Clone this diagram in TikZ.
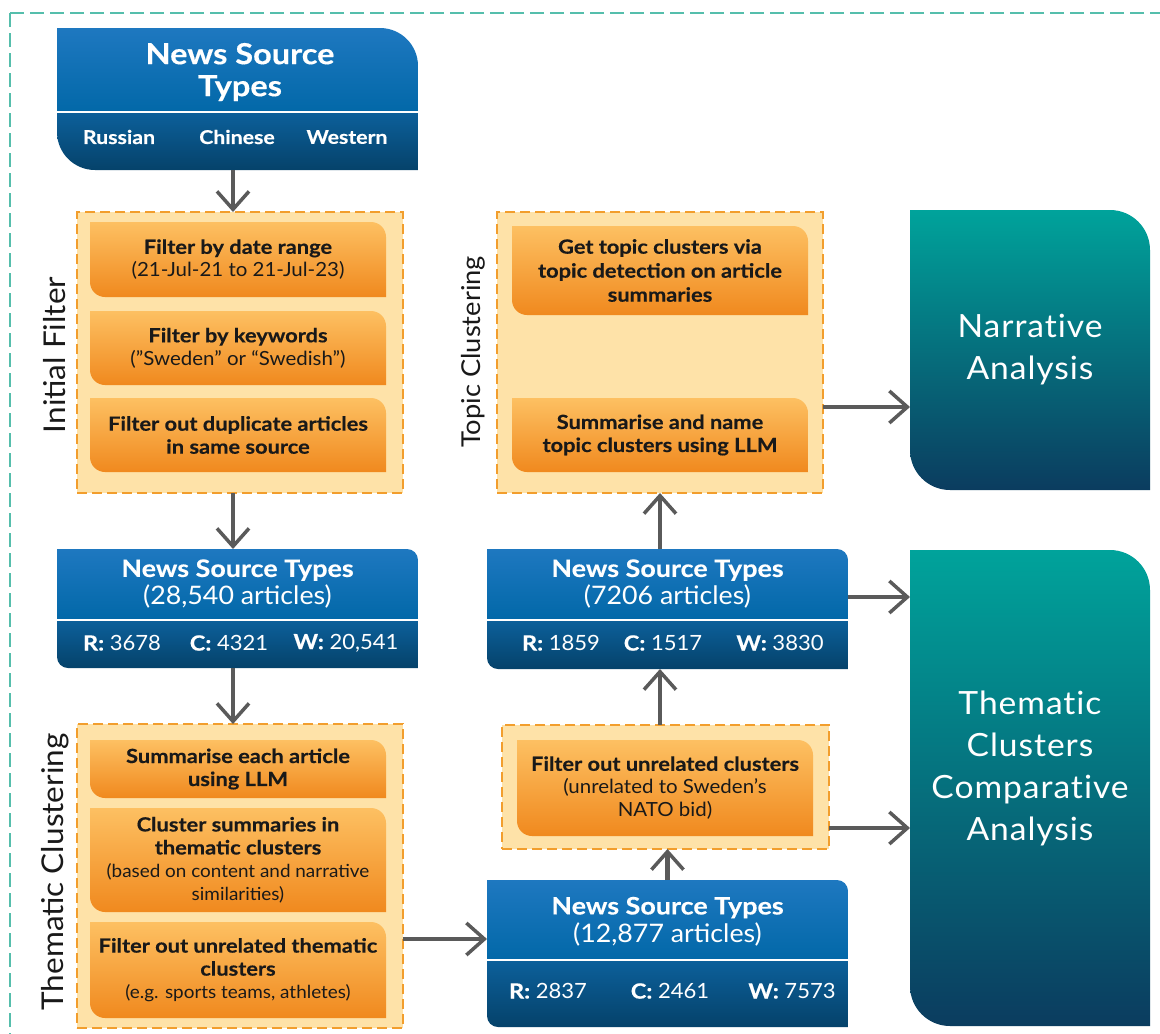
\documentclass[tikz,border=0pt]{standalone}
\usepackage{fontspec}
\setmainfont{Lato}[FakeStretch=1.05, BoldFeatures={FakeStretch=1.12, FakeBold=0.4}]
\usetikzlibrary{arrows.meta}
\definecolor{blueA}{RGB}{30,120,192}
\definecolor{blueB}{RGB}{2,104,168}
\definecolor{blueC}{RGB}{12,96,155}
\definecolor{blueD}{RGB}{5,66,106}
\definecolor{orgA}{RGB}{253,192,98}
\definecolor{orgB}{RGB}{240,137,30}
\definecolor{grpfill}{RGB}{254,226,168}
\definecolor{grpedge}{RGB}{242,158,45}
\definecolor{tealA}{RGB}{0,163,155}
\definecolor{tealB}{RGB}{11,60,95}
\definecolor{framecol}{RGB}{85,190,172}
\definecolor{arrowgray}{RGB}{90,90,90}
\definecolor{ink}{RGB}{25,25,25}
\pgfdeclarelayer{back}
\pgfdeclarelayer{cards}
\pgfsetlayers{back,cards,main}
\newcommand{\fsz}[2]{\fontsize{#1}{#2}\selectfont}
% card with rounded top right and bottom left corners
\newcommand{\cardfill}[3]{\shade[#3, rounded corners=#2] (#1.south west) rectangle (#1.north east) [sharp corners] (#1.west) rectangle (#1.north) (#1.south) rectangle (#1.east);}
% blue card: two shades split by a white rule
\newcommand{\srcfill}[3]{%
  \begin{scope}
    \clip[rounded corners=#2] (#1.south west) rectangle (#1.north east) [sharp corners] (#1.west) rectangle (#1.north) (#1.south) rectangle (#1.east);
    \shade[top color=blueA, bottom color=blueB] (#1.north west) rectangle (#1.east |- 0,#3);
    \shade[top color=blueC, bottom color=blueD] (#1.west |- 0,#3) rectangle (#1.south east);
    \draw[white, line width=1.5pt] (#1.west |- 0,#3) -- (#1.east |- 0,#3);
  \end{scope}}
\tikzset{
    common/.style={inner sep=0pt, outer sep=0pt},
    srcbox/.style={common, minimum width=361pt},
    grp/.style={common, draw=grpedge, fill=grpfill, line width=2.5pt, dash pattern=on 10pt off 5pt, minimum width=326pt},
    task/.style={common, minimum width=296pt, align=center, text=ink, font=\fsz{19.5}{23}},
    outbox/.style={common, minimum width=240pt, align=center, text=white, font=\fsz{32}{42}\addfontfeature{LetterSpace=3, Ligatures=NoCommon}},
    srchead/.style={text=white, align=center, font=\bfseries\fsz{24}{28}},
    tally/.style={text=white, font=\fsz{21}{25}},
    grplabel/.style={rotate=90, text=ink, font=\fsz{30}{36}},
    flow/.style={draw=arrowgray, line width=4.5pt, -{Straight Barb[length=18pt,width=32pt,line width=3.5pt]}}
}
\begin{document}
\begin{tikzpicture}[x=1pt, y=-1pt]
\useasboundingbox (0,0) rectangle (1160,1034);

\begin{pgfonlayer}{back}
  \draw[framecol, line width=2.5pt, dash pattern=on 14pt off 6pt] (10,13) rectangle (1200,1080);
  \node[grp, minimum height=281pt] (ifgrp) at (240,352.5) {};
  \node[grp, minimum height=304pt] (thgrp) at (240,876) {};
  \node[grp, minimum height=281pt] (tpgrp) at (660,352.5) {};
  \node[grp, minimum width=327pt, minimum height=124pt] (natgrp) at (665.5,787) {};
\end{pgfonlayer}

% sources
\node[srcbox, minimum height=142pt] (src) at (237.5,99) {};
\node[srchead, font=\bfseries\fsz{29}{32}] (srctitle) at (240,72) {News Source\\Types};
\node[tally, font=\bfseries\fsz{19}{22}] (ru) at (119,137) {Russian};
\node[tally, font=\bfseries\fsz{19}{22}] (cn) at (237,137) {Chinese};
\node[tally, font=\bfseries\fsz{19}{22}] (we) at (347,137) {Western};

% initial filter
\node[grplabel] (iflabel) at (55,355) {Initial Filter};
\node[task, minimum height=75pt] (date) at (238,259.5) {\textbf{Filter by date range}\\(21-Jul-21 to 21-Jul-23)};
\node[task, minimum height=74pt] (kw) at (238,348) {\textbf{Filter by keywords}\\(”Sweden” or “Swedish”)};
\node[task, minimum height=74pt] (dup) at (238,435) {\textbf{Filter out duplicate articles}\\\textbf{in same source}};

\node[srcbox, minimum height=119pt] (all) at (237.5,608.5) {};
\node[srchead] (alltitle) at (237.5,584) {News Source Types\\{\mdseries\fsz{25.5}{28}(28,540 articles)}};
\node[tally] (allR) at (122,643) {\textbf{R:} 3678};
\node[tally] (allC) at (229,643) {\textbf{C:} 4321};
\node[tally] (allW) at (346,643) {\textbf{W:} 20,541};

% thematic clustering
\node[grplabel] (thlabel) at (55,872) {Thematic Clustering};
\node[task, minimum height=58pt] (summ) at (238,769) {\textbf{Summarise each article}\\\textbf{using LLM}};
\node[task, minimum height=104pt] (clus) at (238,860) {\textbf{Cluster summaries in}\\\textbf{thematic clusters}\\{\fsz{18}{21}(based on content and narrative}\\{\fsz{18}{21}similarities)}};
\node[task, minimum height=96pt] (unrel) at (238,970) {\textbf{Filter out unrelated thematic}\\\textbf{clusters}\\{\fsz{18}{21}(e.g. sports teams, athletes)}};

\node[srcbox, minimum height=147pt] (them) at (667.5,953.5) {};
\node[srchead] (themtitle) at (667.5,921.5) {News Source Types\\{\mdseries\fsz{25.5}{28}(12,877 articles)}};
\node[tally] (themR) at (548,991) {\textbf{R:} 2837};
\node[tally] (themC) at (670,991) {\textbf{C:} 2461};
\node[tally] (themW) at (792,991) {\textbf{W:} 7573};

\node[task, minimum height=96pt] (nat) at (665,788) {\textbf{Filter out unrelated clusters}\\(unrelated to Sweden’s\\NATO bid)};

\node[srcbox, minimum height=120pt] (kept) at (667.5,609) {};
\node[srchead] (kepttitle) at (667.5,584) {News Source Types\\{\mdseries\fsz{25.5}{28}(7206 articles)}};
\node[tally] (keptR) at (561,643) {\textbf{R:} 1859};
\node[tally] (keptC) at (663,643) {\textbf{C:} 1517};
\node[tally] (keptW) at (780,643) {\textbf{W:} 3830};

% topic clustering
\node[grplabel, font=\fsz{26}{30}] (tplabel) at (473,352) {Topic Clustering};
\node[task, minimum height=89pt, font=\fsz{19.5}{24}] (topics) at (660,270.5) {\textbf{Get topic clusters via}\\\textbf{topic detection on article}\\\textbf{summaries}};
\node[task, minimum height=74pt] (names) at (660,435) {\textbf{Summarise and name}\\\textbf{topic clusters using LLM}};

% analyses
\node[outbox, minimum height=280pt] (narr) at (1030,350) {Narrative\\Analysis};
\node[outbox, minimum height=476pt] (tcca) at (1030,788) {};
\node[outbox] (tccatext) at (1030,768.5) {Thematic\\Clusters\\Comparative\\Analysis};

\begin{pgfonlayer}{cards}
  \srcfill{src}{38pt}{112}
  \srcfill{all}{11pt}{620}
  \srcfill{kept}{11pt}{620}
  \srcfill{them}{11pt}{960}
  \foreach \n in {date,kw,dup,summ,clus,unrel,nat,topics,names}{
    \cardfill{\n}{15pt}{top color=orgA, bottom color=orgB}
  }
  \cardfill{narr}{40pt}{top color=tealA, bottom color=tealB}
  \cardfill{tcca}{40pt}{top color=tealA, bottom color=tealB}
\end{pgfonlayer}

\draw[flow] ([xshift=-4.5pt]src.south) -- ([xshift=-4.5pt]src.south |- ifgrp.north);
\draw[flow] ([xshift=-7pt]ifgrp.south) -- ([xshift=-7pt]ifgrp.south |- all.north);
\draw[flow] ([xshift=-4.5pt]all.south) -- ([xshift=-4.5pt]all.south |- thgrp.north);
\draw[flow] ([yshift=14.5pt]them.west -| thgrp.east) -- ([yshift=14.5pt]them.west);
\draw[flow] (them.north) -- (them.north |- natgrp.south);
\draw[flow] ([xshift=-5.5pt]natgrp.north) -- ([xshift=-5.5pt]natgrp.north |- kept.south);
\draw[flow] (tpgrp.south |- kept.north) -- (tpgrp.south);
\draw[flow] ([yshift=-54.5pt]tpgrp.east) -- ([yshift=-54.5pt]tpgrp.east -| narr.west);
\draw[flow] ([yshift=12pt]kept.east) -- ([yshift=12pt]kept.east -| tcca.west);
\draw[flow] ([yshift=-41pt]natgrp.east) -- ([yshift=-41pt]natgrp.east -| tcca.west);
\end{tikzpicture}
\end{document}
